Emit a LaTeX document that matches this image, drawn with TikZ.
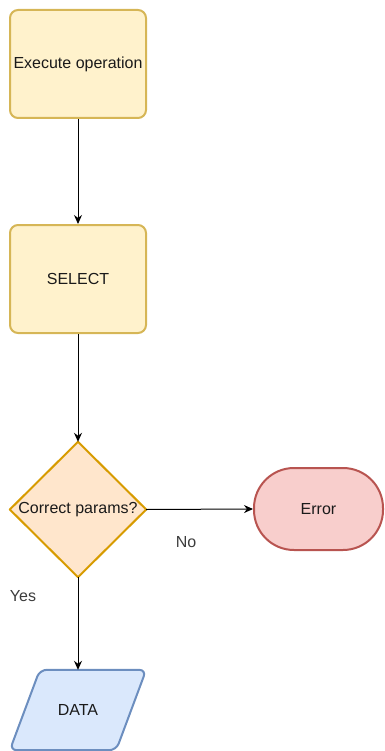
\documentclass[tikz,border=0pt]{standalone}
\usepackage{fontspec}
\setmainfont{Liberation Sans}
\usetikzlibrary{arrows.meta,calc}

\definecolor{yelfill}{HTML}{FFF2CC}
\definecolor{yelline}{HTML}{D6B656}
\definecolor{orafill}{HTML}{FFE6CC}
\definecolor{oraline}{HTML}{D79B00}
\definecolor{redfill}{HTML}{F8CECC}
\definecolor{redline}{HTML}{B85450}
\definecolor{blufill}{HTML}{DAE8FC}
\definecolor{bluline}{HTML}{6C8EBF}
\definecolor{txt}{HTML}{1A1A1A}

\tikzset{
  every node/.style={font=\fontsize{16}{19}\selectfont, text=txt},
  procbox/.style={draw=yelline, fill=yelfill, line width=2pt, rounded corners=8pt,
    minimum width=136pt, minimum height=108pt, inner sep=0pt},
  shapebox/.style={minimum width=136pt, minimum height=#1, inner sep=0pt},
  terminal/.style={draw=redline, fill=redfill, line width=2pt, rounded corners=40pt,
    minimum width=129pt, minimum height=82pt, inner sep=0pt},
  flow/.style={-{Stealth[length=9pt,width=8pt]}, line width=1pt, black},
  edgelabel/.style={text=txt!85}
}

\begin{document}
\begin{tikzpicture}[x=1pt, y=-1pt]
  \useasboundingbox (0,0) rectangle (384,751);

  % process steps
  \node[procbox] (exec) at (78,64) {Execute operation};
  \node[procbox] (sel) at (78,279) {SELECT};

  % decision diamond (drawn around a plain node)
  \node[shapebox=135pt] (dec) at (78,509.5) {};
  \draw[draw=oraline, fill=orafill, line width=2pt, line join=round]
    (dec.north) -- (dec.east) -- (dec.south) -- (dec.west) -- cycle;
  \node at (dec.center) {Correct params?};

  % error terminal
  \node[terminal] (err) at (318.5,509) {Error};

  % data parallelogram
  \node[shapebox=80pt] (data) at (78,710) {};
  \draw[draw=bluline, fill=blufill, line width=2pt, rounded corners=7pt]
    ($(data.north west)+(30,0)$) -- (data.north east)
    -- ($(data.south east)+(-30,0)$) -- (data.south west) -- cycle;
  \node at (data.center) {DATA};

  % connectors
  \draw[flow] (exec.south) -- (sel.north);
  \draw[flow] (sel.south) -- (dec.north);
  \draw[flow] (dec.east) -- (err.west);
  \draw[flow] (dec.south) -- (data.north);

  % branch labels
  \node[edgelabel] (nolbl) at (186,542) {No};
  \node[edgelabel] (yeslbl) at (23,596) {Yes};
\end{tikzpicture}
\end{document}
